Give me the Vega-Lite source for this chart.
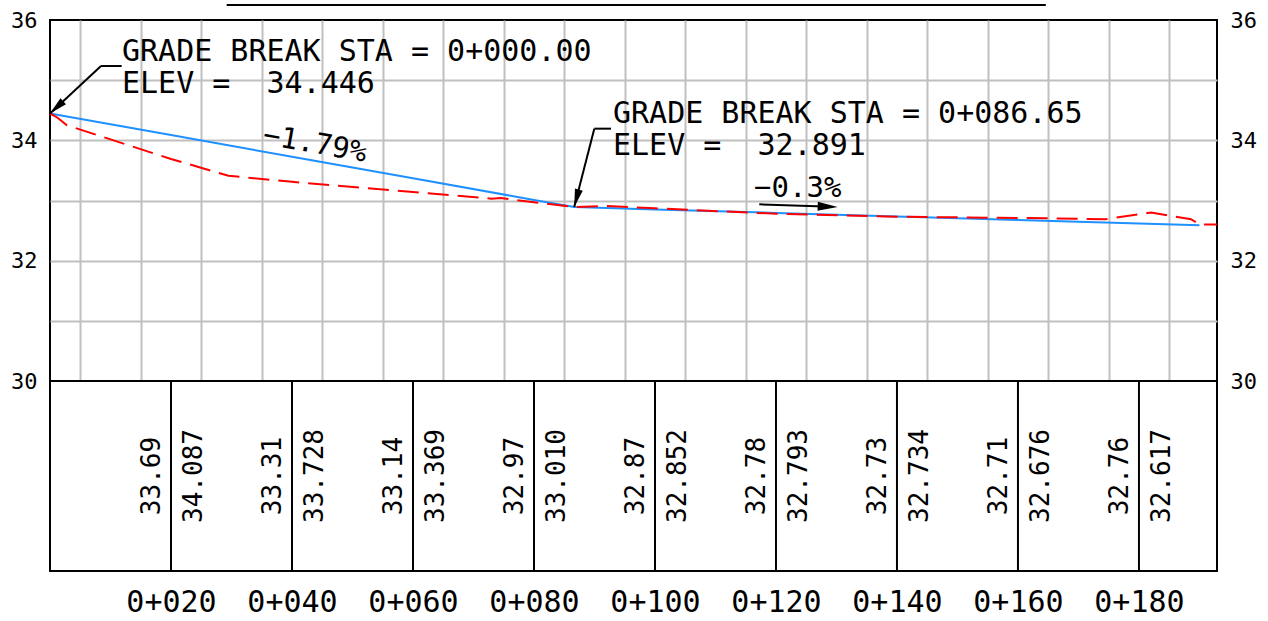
{
  "$schema": "https://vega.github.io/schema/vega-lite/v6.json",
  "background": "white",
  "padding": {"left": 9, "top": 3, "right": 5, "bottom": 5},
  "bounds": "flush",
  "spacing": 0,
  "config": {
    "view": {"stroke": "black", "strokeWidth": 2},
    "text": {"font": "DejaVu Sans Mono", "color": "black"},
    "axis": {"labelFont": "DejaVu Sans Mono", "labelColor": "black"}
  },
  "datasets": {
    "design": [
      {"sta": 0, "elev": 34.446},
      {"sta": 20, "elev": 34.087},
      {"sta": 40, "elev": 33.728},
      {"sta": 60, "elev": 33.369},
      {"sta": 80, "elev": 33.010},
      {"sta": 86.65, "elev": 32.891},
      {"sta": 100, "elev": 32.852},
      {"sta": 120, "elev": 32.793},
      {"sta": 140, "elev": 32.734},
      {"sta": 160, "elev": 32.676},
      {"sta": 180, "elev": 32.617},
      {"sta": 190, "elev": 32.588}
    ],
    "ground": [
      {"sta": 0, "elev": 34.446},
      {"sta": 1.2, "elev": 34.38},
      {"sta": 2.8, "elev": 34.25},
      {"sta": 20, "elev": 33.69},
      {"sta": 29.5, "elev": 33.41},
      {"sta": 40, "elev": 33.31},
      {"sta": 60, "elev": 33.14},
      {"sta": 73, "elev": 33.03},
      {"sta": 74.5, "elev": 33.04},
      {"sta": 80, "elev": 32.97},
      {"sta": 86.65, "elev": 32.891},
      {"sta": 92, "elev": 32.91},
      {"sta": 100, "elev": 32.87},
      {"sta": 120, "elev": 32.78},
      {"sta": 140, "elev": 32.73},
      {"sta": 160, "elev": 32.71},
      {"sta": 174.5, "elev": 32.69},
      {"sta": 182, "elev": 32.80},
      {"sta": 188.6, "elev": 32.69},
      {"sta": 190, "elev": 32.60},
      {"sta": 192.9, "elev": 32.60}
    ],
    "stations": [
      {"sta": 20, "ground": 33.69, "design": 34.087},
      {"sta": 40, "ground": 33.31, "design": 33.728},
      {"sta": 60, "ground": 33.14, "design": 33.369},
      {"sta": 80, "ground": 32.97, "design": 33.010},
      {"sta": 100, "ground": 32.87, "design": 32.852},
      {"sta": 120, "ground": 32.78, "design": 32.793},
      {"sta": 140, "ground": 32.73, "design": 32.734},
      {"sta": 160, "ground": 32.71, "design": 32.676},
      {"sta": 180, "ground": 32.76, "design": 32.617}
    ],
    "notes": [
      {"id": "pvi1", "label": ["GRADE BREAK STA = 0+000.00", "ELEV = \u00a034.446"]},
      {"id": "pvi2", "label": ["GRADE BREAK STA = 0+086.65", "ELEV = \u00a032.891"]},
      {"id": "g1", "label": "\u22121.79%"},
      {"id": "g2", "label": "\u22120.3%"},
      {"id": "mark", "label": ""}
    ]
  },
  "vconcat": [
    {
      "width": 1167,
      "height": 361,
      "layer": [
        {
          "data": {"name": "design"},
          "mark": {"type": "line", "color": "#1e90ff", "strokeWidth": 2},
          "encoding": {
            "x": {
              "field": "sta", "type": "quantitative",
              "scale": {"domain": [0, 192.9], "nice": false, "zero": false},
              "axis": {"values": [5,10,15,20,25,30,35,40,45,50,55,60,65,70,75,80,85,90,95,100,105,110,115,120,125,130,135,140,145,150,155,160,165,170,175,180,185,190],
                "grid": true, "gridColor": "#c0c0c0", "gridWidth": 2, "labels": false, "ticks": false, "domain": false, "title": null}
            },
            "y": {
              "field": "elev", "type": "quantitative",
              "scale": {"domain": [30, 36], "nice": false, "zero": false},
              "axis": {"orient": "left", "values": [30,31,32,33,34,35,36], "grid": true,
                "gridColor": {"condition": {"test": "datum.value == 30 || datum.value == 36", "value": "transparent"}, "value": "#c0c0c0"},
                "gridWidth": 2, "labelExpr": "datum.value % 2 == 0 ? datum.label : ''",
                "labelFontSize": 22, "labelPadding": 13, "ticks": false, "domain": false, "title": null}
            }
          }
        },
        {
          "data": {"name": "ground"},
          "mark": {"type": "line", "color": "#ff0000", "strokeWidth": 2, "strokeDash": [21, 9]},
          "encoding": {
            "x": {"field": "sta", "type": "quantitative"},
            "y": {
              "field": "elev", "type": "quantitative",
              "axis": {"orient": "right", "values": [30,32,34,36], "grid": false,
                "labelFontSize": 22, "labelPadding": 13, "ticks": false, "domain": false, "title": null}
            }
          }
        },
        {
          "data": {"name": "notes"},
          "transform": [{"filter": "datum.id == 'mark'"}],
          "mark": {"type": "rule", "color": "black", "strokeWidth": 2},
          "encoding": {
            "x": {"datum": 29.2, "type": "quantitative"},
            "x2": {"datum": 164.6},
            "y": {"datum": 36.249, "type": "quantitative", "axis": null}
          }
        },
        {
          "data": {"name": "notes"},
          "transform": [{"filter": "datum.id == 'mark'"}],
          "mark": {"type": "rule", "color": "black", "strokeWidth": 2},
          "encoding": {
            "x": {"datum": 8.43, "type": "quantitative"},
            "x2": {"datum": 11.85},
            "y": {"datum": 35.235, "type": "quantitative", "axis": null}
          }
        },
        {
          "data": {"name": "notes"},
          "transform": [{"filter": "datum.id == 'mark'"}],
          "mark": {"type": "rule", "color": "black", "strokeWidth": 2},
          "encoding": {
            "x": {"datum": 8.43, "type": "quantitative"},
            "x2": {"datum": 0},
            "y": {"datum": 35.235, "type": "quantitative", "axis": null},
            "y2": {"datum": 34.446}
          }
        },
        {
          "data": {"name": "notes"},
          "transform": [{"filter": "datum.id == 'mark'"}],
          "mark": {"type": "rule", "color": "black", "strokeWidth": 2},
          "encoding": {
            "x": {"datum": 89.97, "type": "quantitative"},
            "x2": {"datum": 92.73},
            "y": {"datum": 34.194, "type": "quantitative", "axis": null}
          }
        },
        {
          "data": {"name": "notes"},
          "transform": [{"filter": "datum.id == 'mark'"}],
          "mark": {"type": "rule", "color": "black", "strokeWidth": 2},
          "encoding": {
            "x": {"datum": 89.97, "type": "quantitative"},
            "x2": {"datum": 86.65},
            "y": {"datum": 34.194, "type": "quantitative", "axis": null},
            "y2": {"datum": 32.891}
          }
        },
        {
          "data": {"name": "notes"},
          "transform": [{"filter": "datum.id == 'mark'"}],
          "mark": {"type": "rule", "color": "black", "strokeWidth": 2},
          "encoding": {
            "x": {"datum": 117.24, "type": "quantitative"},
            "x2": {"datum": 128},
            "y": {"datum": 32.937, "type": "quantitative", "axis": null},
            "y2": {"datum": 32.9}
          }
        },
        {
          "data": {"name": "notes"},
          "transform": [{"filter": "datum.id == 'mark'"}],
          "mark": {"type": "point", "shape": "M0,0L-2,-0.45L-2,0.45Z", "filled": true, "color": "black", "opacity": 1, "size": 324, "angle": 137.3},
          "encoding": {
            "x": {"datum": 0, "type": "quantitative"},
            "y": {"datum": 34.446, "type": "quantitative", "axis": null}
          }
        },
        {
          "data": {"name": "notes"},
          "transform": [{"filter": "datum.id == 'mark'"}],
          "mark": {"type": "point", "shape": "M0,0L-2,-0.45L-2,0.45Z", "filled": true, "color": "black", "opacity": 1, "size": 324, "angle": 105},
          "encoding": {
            "x": {"datum": 86.65, "type": "quantitative"},
            "y": {"datum": 32.891, "type": "quantitative", "axis": null}
          }
        },
        {
          "data": {"name": "notes"},
          "transform": [{"filter": "datum.id == 'mark'"}],
          "mark": {"type": "point", "shape": "M0,0L-2,-0.45L-2,0.45Z", "filled": true, "color": "black", "opacity": 1, "size": 400, "angle": 2},
          "encoding": {
            "x": {"datum": 130.2, "type": "quantitative"},
            "y": {"datum": 32.892, "type": "quantitative", "axis": null}
          }
        },
        {
          "data": {"name": "notes"},
          "transform": [{"filter": "datum.id == 'pvi1'"}],
          "mark": {"type": "text", "align": "left", "baseline": "alphabetic", "fontSize": 30, "lineHeight": 32},
          "encoding": {
            "x": {"datum": 11.9, "type": "quantitative"},
            "y": {"datum": 35.319, "type": "quantitative", "axis": null},
            "text": {"field": "label"}
          }
        },
        {
          "data": {"name": "notes"},
          "transform": [{"filter": "datum.id == 'pvi2'"}],
          "mark": {"type": "text", "align": "left", "baseline": "alphabetic", "fontSize": 30, "lineHeight": 32},
          "encoding": {
            "x": {"datum": 93.06, "type": "quantitative"},
            "y": {"datum": 34.288, "type": "quantitative", "axis": null},
            "text": {"field": "label"}
          }
        },
        {
          "data": {"name": "notes"},
          "transform": [{"filter": "datum.id == 'g1'"}],
          "mark": {"type": "text", "align": "center", "baseline": "middle", "fontSize": 29, "angle": 10},
          "encoding": {
            "x": {"datum": 43.8, "type": "quantitative"},
            "y": {"datum": 33.939, "type": "quantitative", "axis": null},
            "text": {"field": "label"}
          }
        },
        {
          "data": {"name": "notes"},
          "transform": [{"filter": "datum.id == 'g2'"}],
          "mark": {"type": "text", "align": "center", "baseline": "alphabetic", "fontSize": 29},
          "encoding": {
            "x": {"datum": 123.6, "type": "quantitative"},
            "y": {"datum": 33.058, "type": "quantitative", "axis": null},
            "text": {"field": "label"}
          }
        }
      ],
      "resolve": {"axis": {"y": "independent"}}
    },
    {
      "width": 1167,
      "height": 190,
      "data": {"name": "stations"},
      "layer": [
        {
          "mark": {"type": "rule", "color": "black", "strokeWidth": 2},
          "encoding": {
            "x": {
              "field": "sta", "type": "quantitative",
              "scale": {"domain": [0, 192.9], "nice": false, "zero": false},
              "axis": {"values": [20,40,60,80,100,120,140,160,180],
                "labelExpr": "'0+' + format(datum.value, '03d')",
                "labelFontSize": 30, "labelPadding": 31, "labelBaseline": "middle",
                "ticks": false, "domain": false, "grid": false, "title": null}
            }
          }
        },
        {
          "mark": {"type": "text", "angle": 270, "align": "center", "baseline": "alphabetic", "dy": -11, "fontSize": 26},
          "encoding": {
            "x": {"field": "sta", "type": "quantitative"},
            "text": {"field": "ground", "type": "quantitative", "format": ".2f"}
          }
        },
        {
          "mark": {"type": "text", "angle": 270, "align": "center", "baseline": "alphabetic", "dy": 31, "fontSize": 26},
          "encoding": {
            "x": {"field": "sta", "type": "quantitative"},
            "text": {"field": "design", "type": "quantitative", "format": ".3f"}
          }
        }
      ]
    }
  ]
}
